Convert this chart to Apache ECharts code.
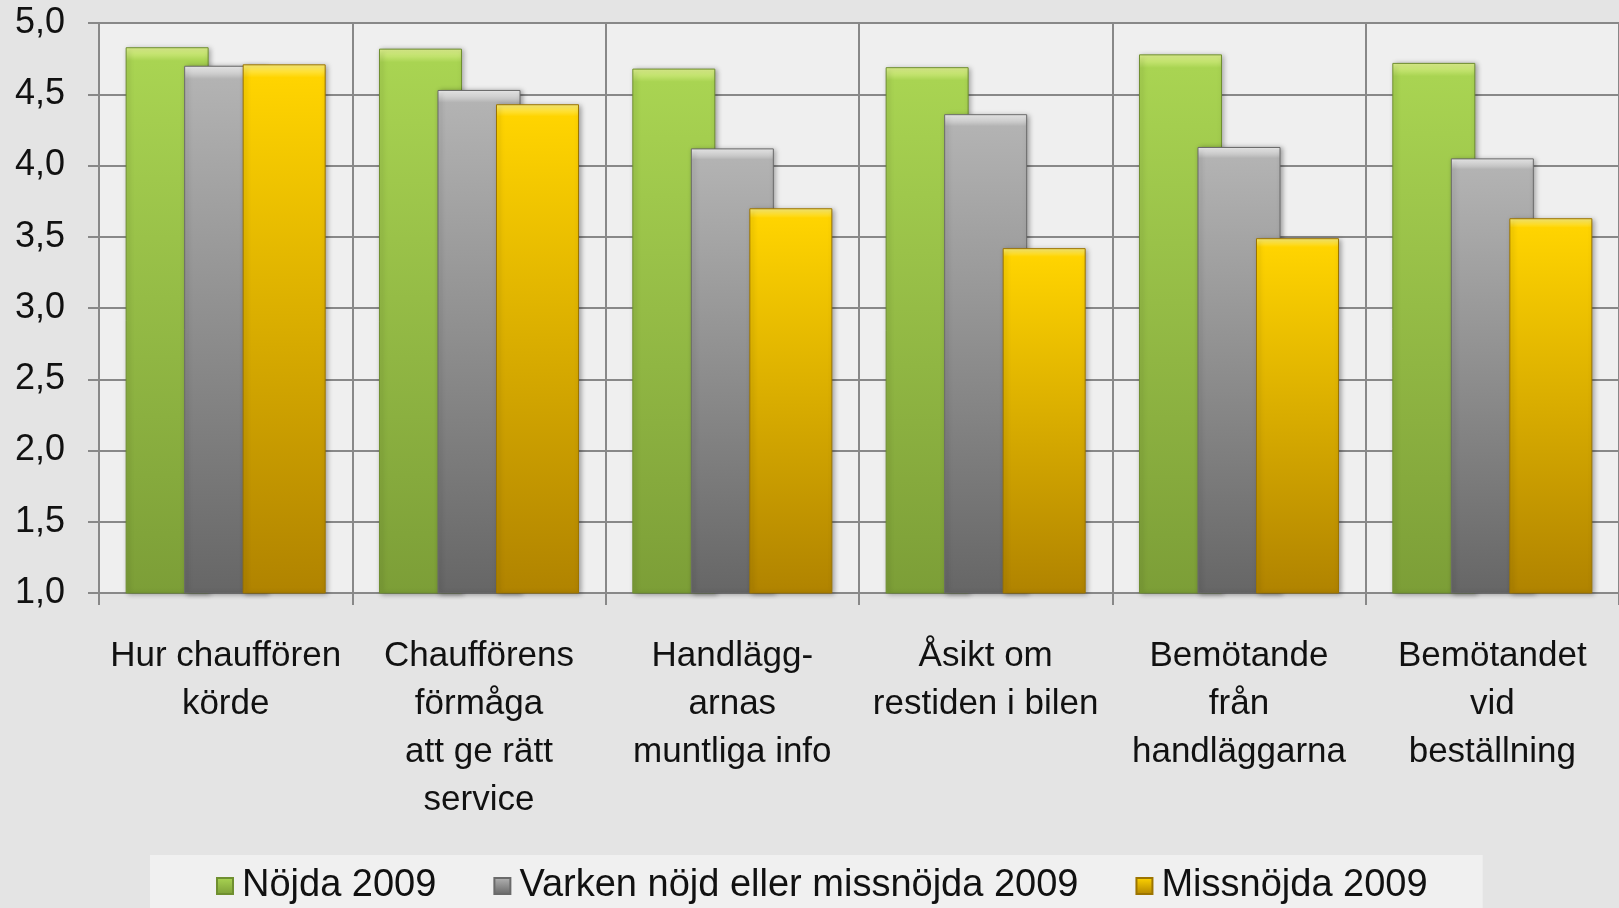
<!DOCTYPE html>
<html>
<head>
<meta charset="utf-8">
<script src="https://cdn.jsdelivr.net/npm/echarts@6/dist/echarts.min.js"></script>
<style>
  html, body { margin: 0; padding: 0; background: #e4e4e4; }
  #chart { width: 1619px; height: 908px; }
</style>
</head>
<body>
<div id="chart"></div>
<script>
// kategorier och värden
const categories = [
  'Hur chauffören\nkörde',
  'Chaufförens\nförmåga\natt ge rätt\nservice',
  'Handlägg-\narnas\nmuntliga info',
  'Åsikt om\nrestiden i bilen',
  'Bemötande\nfrån\nhandläggarna',
  'Bemötandet\nvid\nbeställning'
]
const seriesNames = ['Nöjda 2009', 'Varken nöjd eller missnöjda 2009', 'Missnöjda 2009']
const nojda = [4.83, 4.82, 4.68, 4.69, 4.78, 4.72]
const varken = [4.70, 4.53, 4.12, 4.36, 4.13, 4.05]
const missnojda = [4.71, 4.43, 3.70, 3.42, 3.49, 3.63]
const yTicks = { min: 1, max: 5, step: 0.5 }

function grad(hi, top, bottom) {
  return new echarts.graphic.LinearGradient(0, 0, 0, 1, [
    { offset: 0, color: hi },
    { offset: 0.025, color: top },
    { offset: 1, color: bottom }
  ])
}

const palette = [
  { fill: grad('#e2f590', '#a9d452', '#7c9e37'), border: '#6f8f30' },
  { fill: grad('#f4f4f4', '#b3b3b3', '#666666'), border: '#6a6a6a' },
  { fill: grad('#fff27a', '#ffd400', '#b08300'), border: '#9c7400' }
]

const chart = echarts.init(document.getElementById('chart'))
const fontFamily = '"Liberation Sans", Arial, sans-serif'

chart.setOption({
  backgroundColor: '#e4e4e4',
  animation: false,
  grid: {
    left: 99, top: 23, width: 1524, height: 570,
    show: true, backgroundColor: '#efefef', borderWidth: 0
  },
  legend: {
    left: 150, top: 855,
    padding: [12, 55, 30, 66],
    backgroundColor: '#f0f0f0',
    itemWidth: 16, itemHeight: 16, itemGap: 57,
    icon: 'rect',
    textStyle: { fontFamily, fontSize: 38, color: '#111', padding: [0, 0, 0, 4] },
    data: seriesNames
  },
  xAxis: {
    type: 'category',
    data: categories,
    boundaryGap: true,
    axisLine: { show: true, lineStyle: { color: '#888', width: 2 } },
    axisTick: { show: true, length: 12, lineStyle: { color: '#888', width: 2 } },
    axisLabel: {
      interval: 0, margin: 39, color: '#111',
      fontFamily, fontSize: 35, lineHeight: 48, align: 'center'
    },
    splitLine: { show: true, lineStyle: { color: '#888', width: 2 } }
  },
  yAxis: {
    type: 'value',
    min: yTicks.min, max: yTicks.max, interval: yTicks.step,
    axisLine: { show: true, lineStyle: { color: '#888', width: 2 } },
    axisTick: { show: true, length: 11, lineStyle: { color: '#888', width: 2 } },
    axisLabel: {
      margin: 34, color: '#111', fontFamily, fontSize: 36,
      formatter: v => v.toFixed(1).replace('.', ',')
    },
    splitLine: { show: true, lineStyle: { color: '#888', width: 2 } }
  },
  series: [nojda, varken, missnojda].map((d, i) => ({
    name: seriesNames[i],
    type: 'bar',
    data: d,
    barWidth: 83,
    barGap: '-29.5%',
    itemStyle: {
      color: palette[i].fill,
      borderColor: palette[i].border,
      borderWidth: 1,
      shadowColor: 'rgba(0,0,0,0.35)',
      shadowBlur: 5,
      shadowOffsetX: 2,
      shadowOffsetY: 1
    }
  }))
})
</script>
</body>
</html>
